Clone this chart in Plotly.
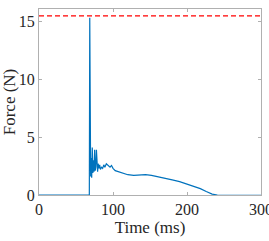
import plotly.graph_objects as go

time_ms = [0, 68, 68.6, 69.2, 69.8, 70.5, 71.2, 72.0, 72.8, 73.6, 74.4, 75.2, 76.0, 76.8, 77.6, 78.4,
           79.2, 80.0, 81.0, 82.0, 83.0, 84.5, 86.0, 87.5, 89.0, 91.0, 92.5, 94.0, 96.0, 98.0, 100.0,
           103.0, 106.0, 109.0, 114.0, 120.0, 128.0, 136.0, 144.0, 152.0, 160.0, 170.0, 180.0,
           190.0, 200.0, 210.0, 218.0, 226.0, 234.0, 241.0, 245.0, 260.0, 300.0]
force_n = [0, 0, 15.3, 8.0, 1.6, 3.2, 1.5, 4.1, 1.9, 3.0, 2.0, 3.9, 2.1, 2.4, 3.9, 2.2,
           2.0, 2.7, 2.3, 2.6, 2.2, 2.4, 2.3, 2.6, 2.4, 2.7, 2.6, 2.5, 2.4, 2.55, 2.3,
           2.1, 2.05, 1.95, 1.85, 1.75, 1.7, 1.72, 1.75, 1.7, 1.6, 1.45, 1.3,
           1.15, 0.95, 0.75, 0.55, 0.3, 0.08, 0.0, -0.02, -0.02, -0.02]
limit_force = 15.45
x_ticks = [0, 100, 200, 300]
y_ticks = [0, 5, 10, 15]

SERIF = "Liberation Serif"

fig = go.Figure()
fig.add_trace(go.Scatter(x=time_ms, y=force_n, mode="lines",
                         line=dict(color="#0072BD", width=1.2), showlegend=False))
fig.add_trace(go.Scatter(x=[0, 300], y=[limit_force, limit_force], mode="lines",
                         line=dict(color="#FF0000", width=1.3, dash="5px,3px"), showlegend=False))

axis_common = dict(showgrid=False, zeroline=False, showline=True, linecolor="#b0b0b0",
                   linewidth=1, mirror="ticks", ticks="inside", ticklen=3, tickcolor="#b0b0b0",
                   automargin=False, ticklabeloverflow="allow",
                   tickfont=dict(family=SERIF, size=16, color="#262626"))
fig.update_xaxes(range=[0, 300], tickvals=x_ticks,
                 title=dict(text="Time (ms)", font=dict(family=SERIF, size=17, color="#262626"), standoff=2),
                 **axis_common)
fig.update_yaxes(range=[0, 16.05], tickvals=y_ticks,
                 title=dict(text="Force (N)", font=dict(family=SERIF, size=17, color="#262626"), standoff=4),
                 **axis_common)
fig.update_layout(width=269, height=241, margin=dict(l=39, r=8, t=9, b=46),
                  plot_bgcolor="white", paper_bgcolor="white")
fig.write_html("out.html", config={"displayModeBar": False},
               post_script="document.body.style.margin='0';document.body.style.padding='0';")
